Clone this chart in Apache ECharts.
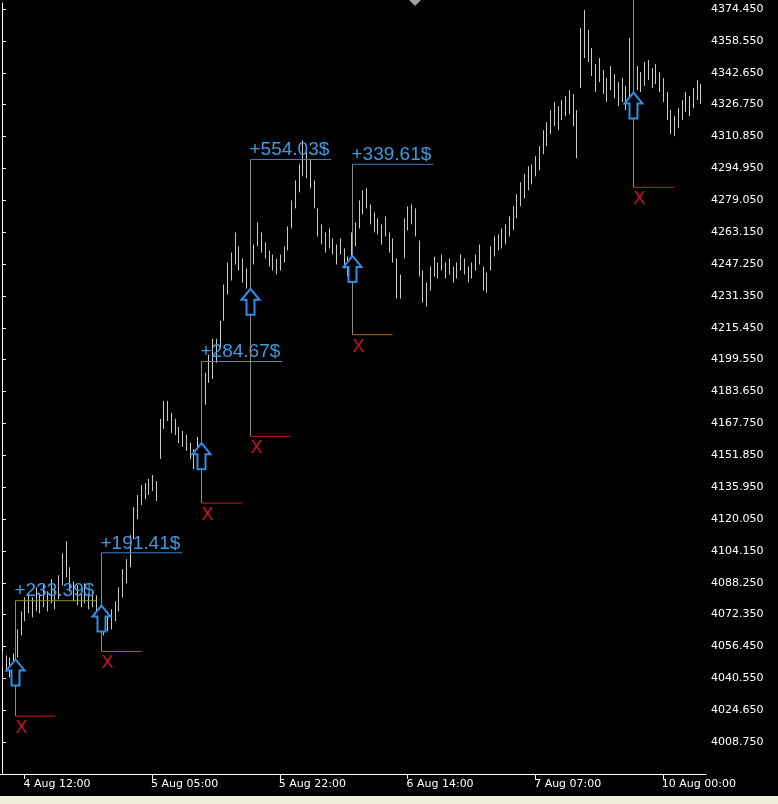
<!DOCTYPE html>
<html>
<head>
<meta charset="utf-8">
<script src="https://cdn.jsdelivr.net/npm/echarts@6/dist/echarts.min.js"></script>
<style>html,body{margin:0;padding:0;background:#000}#container{width:778px;height:804px}</style>
</head>
<body>
<div id="container"></div>
<script>
// bar mid prices and spans (M30 bars)
var mids = [4050,4048,4046,4049,4058,4068,4075,4078,4076,4080,4078,4082,4079,4084,4080,4086,
  4095,4100,4090,4084,4082,4080,4083,4079,4080,4077,4072,4066,4068,4070,
  4074,4080,4088,4094,4104,4118,4126,4132,4134,4136,4138,4134,
  4160,4172,4174,4168,4166,4162,4160,4158,4154,4150,4156,
  4170,4185,4195,4200,4204,4212,4228,4240,4246,4255,4250,4244,4240,4248,4252,4262,4258,4254,4250,4248,4246,4248,4252,4260,4272,4282,4290,4300,4298,4292,4282,4268,4262,4258,4260,4256,4252,4256,4250,4246,
  4256,4262,4272,4278,4280,4272,4268,4266,4262,4266,4258,4254,4240,4236,4260,4270,4272,4268,4250,4236,4232,4240,4246,4244,4248,4244,4246,4242,4244,4248,4246,4242,4244,4248,4252,4240,4238,
  4250,4256,4258,4260,4262,4266,4270,4276,4282,4286,4290,4292,4296,4300,4308,4312,4318,4322,4320,4324,4326,4328,4324,4312,4350,4362,4356,4348,4340,4344,4338,4334,4340,4336,4332,4334,4330,4340,4345,4340,4338,4342,4344,4340,4342,4338,4334,4326,4318,4316,4320,4324,4328,4326,4330,4334,4332,4336];
var spans = [8,8,10,8,14,12,12,10,10,12,10,12,10,12,10,12,
  16,18,12,10,10,8,10,8,8,10,10,8,8,10,
  10,12,14,12,16,16,12,10,8,8,8,10,
  20,14,10,10,8,8,8,8,8,10,10,
  16,16,14,20,12,14,18,16,14,16,12,12,10,12,10,12,10,8,8,8,8,8,8,12,14,14,14,18,16,14,14,14,10,10,10,8,10,8,10,10,
  14,12,14,12,10,10,10,8,10,10,10,12,20,12,20,12,10,14,18,16,12,12,10,8,8,8,8,8,8,8,8,8,8,8,10,12,10,
  12,10,8,10,10,10,12,12,12,12,12,10,10,12,12,12,12,12,12,10,10,12,16,24,30,24,16,14,14,12,12,12,12,12,12,12,12,40,14,12,10,12,10,10,10,10,12,14,12,10,10,10,10,10,10,10,10];

var timeLabels = ['4 Aug 12:00','5 Aug 05:00','5 Aug 22:00','6 Aug 14:00','7 Aug 07:00','10 Aug 00:00'];
var timeLabelIdx = [6,40,74,108,142,176];

// trades: bar position, entry, target, stop, profit label
var tradeIdx = [3.5,26.3,52.9,66.2,93.3,168];
var tradeEntry = [4043.5,4070.4,4151.4,4228.4,4244.8,4326.3];
var tradeTarget = [4079.3,4103.2,4198.6,4299.4,4297.0,null];
var tradeStop = [4021.7,4054.0,4128.0,4161.3,4212.0,4285.5];
var tradeLabel = ['+233.39$','+191.41$','+284.67$','+554.03$','+339.61$',''];
var targetColor = ['#7f8f3a','#3f7fd0','#7f8f3a','#3f7fd0','#3f7fd0',''];
var stopColor = ['#d01830','#a8681a','#d01830','#d01830','#a8681a','#d01830'];

var bars = mids.map(function (m, i) { return [i, m - spans[i] / 2, m + spans[i] / 2]; });
var trades = tradeIdx.map(function (x, i) { return [x, tradeEntry[i], tradeTarget[i], tradeStop[i], i]; });

var myChart = echarts.init(document.getElementById('container'));
var option = {
  backgroundColor: '#000000',
  animation: false,
  grid: {left: 0, right: 72, top: 3, bottom: 30, outerBoundsMode: 'none', containLabel: false},
  xAxis: {
    type: 'value', min: -0.5, max: mids.length - 0.5,
    axisLine: {show: true, onZero: false, lineStyle: {color: '#ffffff', width: 1}},
    axisTick: {show: true, customValues: timeLabelIdx, length: 5, lineStyle: {color: '#ffffff'}},
    axisLabel: {
      customValues: timeLabelIdx, color: '#ffffff', fontSize: 11, fontFamily: 'DejaVu Sans', margin: 5,
      align: 'left', padding: [0, 0, 0, -1],
      formatter: function (v) { return timeLabels[timeLabelIdx.indexOf(v)] || ''; }
    },
    splitLine: {show: false}
  },
  yAxis: {
    type: 'value', position: 'right', min: 3992.85, max: 4377.45, interval: 15.9,
    axisLine: {show: true, lineStyle: {color: '#ffffff', width: 1}},
    axisTick: {show: true, length: 4, lineStyle: {color: '#ffffff'}},
    axisLabel: {
      color: '#ffffff', fontSize: 11, fontFamily: 'DejaVu Sans', margin: 5,
      showMinLabel: false, showMaxLabel: false,
      formatter: function (v) { return v.toFixed(3); }
    },
    splitLine: {show: false}
  },
  series: [{
    type: 'custom',
    data: bars,
    renderItem: function (params, api) {
      var p1 = api.coord([api.value(0), api.value(1)]);
      var p2 = api.coord([api.value(0), api.value(2)]);
      return {type: 'line', shape: {x1: Math.round(p1[0]) + 0.5, y1: p1[1], x2: Math.round(p2[0]) + 0.5, y2: p2[1]},
        style: {stroke: '#c8c8c8', lineWidth: 1}};
    }
  }, {
    type: 'custom',
    data: trades,
    z: 5,
    renderItem: function (params, api) {
      var k = api.value(4);
      var x = Math.round(api.coord([api.value(0), 0])[0]) + 0.5;
      var w = 3.755;
      var ye = api.coord([0, api.value(1)])[1];
      var ys = api.coord([0, api.value(3)])[1];
      var ch = [];
      var yt = tradeTarget[k] == null ? 0 : api.coord([0, tradeTarget[k]])[1];
      ch.push({type: 'line', shape: {x1: x, y1: yt, x2: x, y2: ys}, style: {stroke: '#8a8a8a', lineWidth: 1}});
      if (tradeTarget[k] != null) {
        ch.push({type: 'line', shape: {x1: x, y1: yt, x2: x + 21.5 * w, y2: yt}, style: {stroke: targetColor[k], lineWidth: 1}});
        ch.push({type: 'text', x: x - 1, y: yt, style: {text: tradeLabel[k], fill: '#3d9ade', fontSize: 19,
          fontFamily: 'Liberation Sans', align: 'left', verticalAlign: 'bottom'}});
      }
      ch.push({type: 'line', shape: {x1: x, y1: ys, x2: x + 10.7 * w, y2: ys}, style: {stroke: stopColor[k], lineWidth: 1}});
      ch.push({type: 'text', x: x + 6, y: ys + 3, style: {text: 'X', fill: '#d0102a', fontSize: 18,
        fontFamily: 'Liberation Sans', align: 'center', verticalAlign: 'top'}});
      var t = ye - 13;
      ch.push({type: 'polygon', shape: {points: [[x, t], [x + 9, t + 11], [x + 4, t + 11], [x + 4, t + 26],
        [x - 4, t + 26], [x - 4, t + 11], [x - 9, t + 11]]}, style: {fill: '#000', stroke: '#2f8fe8', lineWidth: 2}});
      return {type: 'group', children: ch};
    }
  }],
  graphic: [
    {type: 'polygon', shape: {points: [[409, 0], [421, 0], [415, 6]]}, style: {fill: '#a0a0a0'}},
    {type: 'rect', shape: {x: 0, y: 796, width: 778, height: 8}, style: {fill: '#eeeed8'}}
  ]
};
myChart.setOption(option);
</script>
</body>
</html>
